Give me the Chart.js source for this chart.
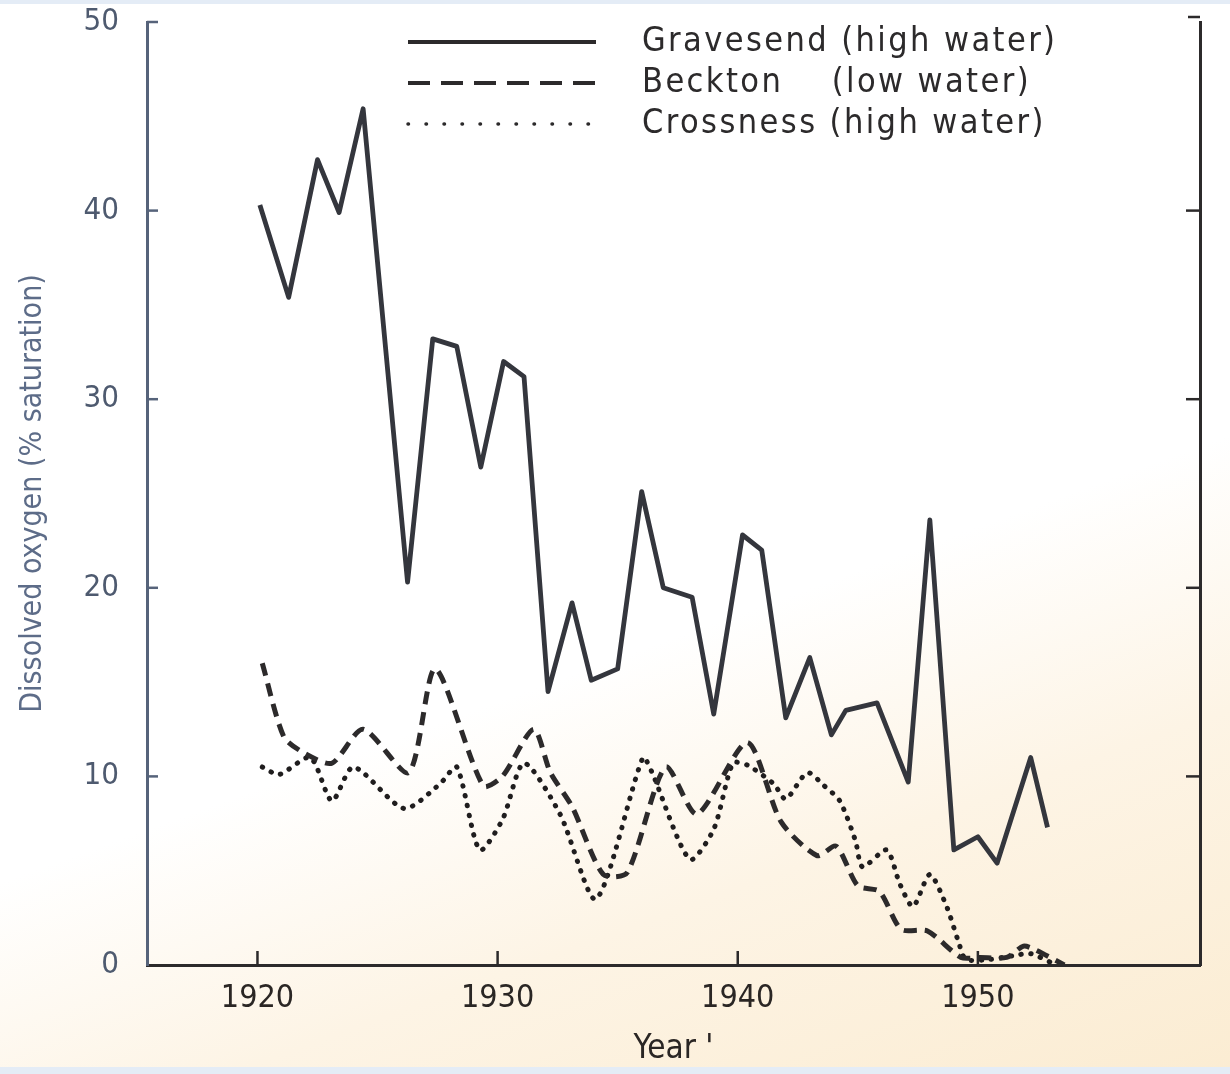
<!DOCTYPE html>
<html>
<head>
<meta charset="utf-8">
<script src="https://cdn.jsdelivr.net/npm/chart.js@4.4.1/dist/chart.umd.min.js"></script>
<style>
  html, body { margin: 0; padding: 0; }
  body {
    width: 1230px; height: 1074px; overflow: hidden;
    background: linear-gradient(160deg, #ffffff 0%, #ffffff 58%, #fdf4e5 76%, #fbecd2 100%);
  }
  #wrap { position: relative; width: 1230px; height: 1074px; }
  #wrap:before, #wrap:after { content: ''; position: absolute; left: 0; right: 0; background: #e4ecf6; }
  #wrap:before { top: 0; height: 4px; }
  #wrap:after { bottom: 0; height: 7px; }
  canvas { position: absolute; left: 0; top: 0; }
</style>
</head>
<body>
<div id="wrap"><canvas id="oxygenChart" width="1230" height="1074"></canvas></div>
<script>
// values (year, % saturation)
const gravesendYears = [1920.1, 1921.3, 1922.5, 1923.4, 1924.4, 1926.25, 1927.3, 1928.3, 1929.3, 1930.25,
    1931.1, 1932.1, 1933.1, 1933.9, 1935.0, 1936.0, 1936.9, 1938.1, 1939.0, 1940.2,
    1941.0, 1942.0, 1943.0, 1943.9, 1944.5, 1945.8, 1947.1, 1948.0, 1949.0, 1950.0,
    1950.8, 1952.2, 1952.9];
const gravesendValues = [40.3, 35.4, 42.7, 39.9, 45.4, 20.3, 33.2, 32.8, 26.4, 32.0,
    31.2, 14.5, 19.2, 15.1, 15.7, 25.1, 20.0, 19.5, 13.3, 22.8,
    22.0, 13.1, 16.3, 12.2, 13.5, 13.9, 9.7, 23.6, 6.1, 6.8,
    5.4, 11.0, 7.3];

const becktonYears = [1920.2, 1921.1, 1922.0, 1923.1, 1924.4, 1926.3, 1927.4, 1929.4, 1930.2, 1931.5,
    1932.2, 1933.1, 1934.4, 1935.4, 1937.0, 1938.3, 1940.4, 1941.8, 1943.3, 1944.1,
    1945.0, 1945.9, 1946.8, 1947.9, 1949.3, 1950.1, 1951.2, 1951.9, 1952.4, 1953.6];
const becktonValues = [16.0, 12.1, 11.2, 10.7, 12.5, 10.2, 15.7, 9.5, 10.0, 12.5,
    10.2, 8.4, 4.8, 4.9, 10.5, 8.0, 11.8, 7.6, 5.8, 6.3,
    4.2, 3.9, 1.9, 1.8, 0.4, 0.4, 0.4, 1.0, 0.8, 0.0];

const crossnessYears = [1920.2, 1920.9, 1922.2, 1923.1, 1924.0, 1926.1, 1927.6, 1928.3, 1929.25, 1930.2,
    1931.1, 1932.6, 1934.1, 1936.05, 1936.4, 1938.0, 1939.0, 1939.8, 1940.4, 1941.5,
    1942.0, 1942.9, 1943.6, 1944.25, 1944.9, 1945.2, 1946.2, 1946.75, 1947.3, 1948.0,
    1948.7, 1949.2, 1949.5, 1950.5, 1951.5, 1952.2, 1953.1];
const crossnessValues = [10.5, 10.1, 11.0, 8.7, 10.5, 8.3, 9.6, 10.5, 6.1, 7.7,
    10.7, 8.0, 3.5, 11.0, 10.3, 5.6, 7.2, 10.7, 10.6, 9.6,
    8.8, 10.2, 9.5, 8.7, 6.6, 5.2, 6.1, 4.3, 3.1, 4.8,
    3.1, 1.2, 0.3, 0.3, 0.5, 0.6, 0.1];

const seriesNames = ['Gravesend (high water)', 'Beckton    (low water)', 'Crossness (high water)'];
const xTickYears = [1920, 1930, 1940, 1950];
const yTickValues = [0, 10, 20, 30, 40, 50];

const fontFamily = "'DejaVu Sans Condensed', 'Liberation Sans Narrow', sans-serif";
const inkColor = '#2c2a2b';
const axisBlue = '#56637a';

function toPoints(xs, ys) {
    return xs.map(function (x, i) { return { x: x, y: ys[i] }; });
}

function noEdgePadding(scale) {
    scale.paddingTop = 0;
    scale.paddingBottom = 0;
    scale.paddingLeft = 0;
    scale.paddingRight = 0;
}

// inward tick marks and the little stubs at the top corners
const frameTicks = {
    id: 'frameTicks',
    afterDraw(chart) {
        const ctx = chart.ctx;
        const xs = chart.scales.x, ys = chart.scales.y;
        const area = chart.chartArea;
        ctx.save();
        ctx.lineWidth = 2.5;
        ctx.strokeStyle = axisBlue;
        yTickValues.forEach(function (v) {
            if (v === 0) return;
            const py = ys.getPixelForValue(v);
            ctx.beginPath(); ctx.moveTo(area.left, py); ctx.lineTo(area.left + 11, py); ctx.stroke();
        });
        ctx.strokeStyle = inkColor;
        yTickValues.forEach(function (v) {
            if (v === 0 || v === 50) return;
            const py = ys.getPixelForValue(v);
            ctx.beginPath(); ctx.moveTo(area.right, py); ctx.lineTo(area.right - 14, py); ctx.stroke();
        });
        ctx.beginPath(); ctx.moveTo(area.right, area.top - 5); ctx.lineTo(area.right - 12, area.top - 5); ctx.stroke();
        xTickYears.forEach(function (v) {
            const px = xs.getPixelForValue(v);
            ctx.beginPath(); ctx.moveTo(px, area.bottom); ctx.lineTo(px, area.bottom - 14); ctx.stroke();
        });
        ctx.restore();
    }
};

const lineLegend = {
    id: 'lineLegend',
    afterDraw(chart) {
        const ctx = chart.ctx;
        const rows = [42, 83, 124];
        const patterns = [[], [22, 11], [0.5, 17.5]];
        ctx.save();
        chart.data.datasets.forEach(function (ds, i) {
            ctx.strokeStyle = inkColor;
            ctx.lineWidth = i === 2 ? 3.5 : 4;
            ctx.lineCap = i === 2 ? 'round' : 'butt';
            ctx.setLineDash(patterns[i]);
            ctx.beginPath(); ctx.moveTo(408, rows[i]); ctx.lineTo(596, rows[i]); ctx.stroke();
            ctx.setLineDash([]);
            ctx.fillStyle = inkColor;
            ctx.font = '34px ' + fontFamily;
            ctx.letterSpacing = '2.4px';
            ctx.textBaseline = 'middle';
            ctx.fillText(ds.label, 642, rows[i]);
        });
        ctx.restore();
    }
};

const ctx = document.getElementById('oxygenChart').getContext('2d');
const oxygenChart = new Chart(ctx, {
    type: 'line',
    data: {
        datasets: [{
            label: seriesNames[0],
            data: toPoints(gravesendYears, gravesendValues),
            borderColor: '#34363d',
            borderWidth: 4.8,
            borderJoinStyle: 'round',
            tension: 0,
            pointRadius: 0
        }, {
            label: seriesNames[1],
            data: toPoints(becktonYears, becktonValues),
            borderColor: inkColor,
            borderWidth: 5,
            borderDash: [13, 8],
            tension: 0.25,
            pointRadius: 0
        }, {
            label: seriesNames[2],
            data: toPoints(crossnessYears, crossnessValues),
            borderColor: '#1f1d1e',
            borderWidth: 5,
            borderDash: [0.5, 9.5],
            borderCapStyle: 'round',
            tension: 0.25,
            pointRadius: 0
        }]
    },
    options: {
        responsive: false,
        animation: false,
        layout: { padding: { top: 22, left: 0, right: 0, bottom: 0 } },
        plugins: {
            legend: { display: false },
            tooltip: { enabled: false }
        },
        scales: {
            x: {
                type: 'linear',
                min: 1915.4,
                max: 1959.25,
                afterBuildTicks: function (scale) {
                    scale.ticks = xTickYears.map(function (v) { return { value: v }; });
                },
                afterFit: function (scale) { scale.height = 109; noEdgePadding(scale); },
                grid: { display: false, drawTicks: false },
                border: { display: true, color: inkColor, width: 3 },
                ticks: {
                    padding: 14,
                    color: '#2a2624',
                    font: { family: fontFamily, size: 32 },
                    callback: function (v) { return String(v); }
                },
                title: {
                    display: true,
                    text: "Year '",
                    color: '#2a2624',
                    font: { family: fontFamily, size: 33 },
                    padding: { top: 0, bottom: 5 }
                }
            },
            y: {
                min: 0,
                max: 50,
                afterBuildTicks: function (scale) {
                    scale.ticks = yTickValues.map(function (v) { return { value: v }; });
                },
                afterFit: function (scale) { scale.width = 147; noEdgePadding(scale); },
                grid: { display: false, drawTicks: false },
                border: { display: true, color: axisBlue, width: 3 },
                ticks: {
                    padding: 28,
                    color: '#4e5a6f',
                    font: { family: fontFamily, size: 31 }
                },
                title: {
                    display: true,
                    text: 'Dissolved oxygen (% saturation)',
                    color: '#5d6c88',
                    font: { family: fontFamily, size: 30 },
                    padding: { top: 15, bottom: 0 }
                }
            },
            y2: {
                position: 'right',
                min: 0,
                max: 50,
                afterFit: function (scale) { scale.width = 30; noEdgePadding(scale); },
                grid: { display: false, drawTicks: false },
                border: { display: true, color: inkColor, width: 3 },
                ticks: { display: false }
            }
        }
    },
    plugins: [frameTicks, lineLegend]
});
</script>
</body>
</html>
